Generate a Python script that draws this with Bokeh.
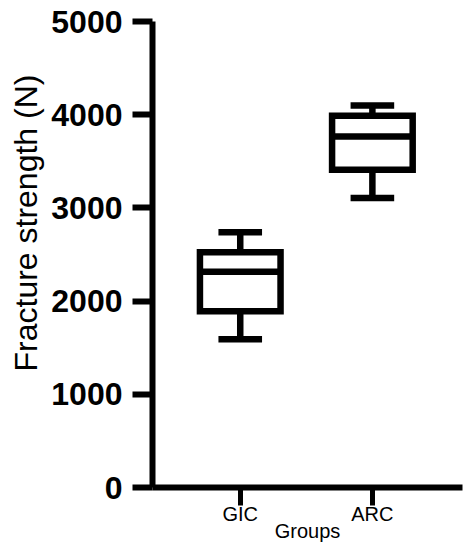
import math
from bokeh.plotting import figure
from bokeh.models import Range1d, FixedTicker, Title, ColumnDataSource
from bokeh.embed import file_html
from bokeh.resources import INLINE

# ---- data ----
groups = ["GIC", "ARC"]
minimum = [1590, 3105]
q1 = [1890, 3410]
median = [2315, 3765]
q3 = [2525, 3990]
maximum = [2740, 4100]
y_ticks = [0, 1000, 2000, 3000, 4000, 5000]

xs = list(range(1, len(groups) + 1))
box_half = 0.305
cap_half = 0.165

src = ColumnDataSource(dict(
    x=xs,
    left=[x - box_half for x in xs],
    right=[x + box_half for x in xs],
    cap_l=[x - cap_half for x in xs],
    cap_r=[x + cap_half for x in xs],
    minimum=minimum, q1=q1, median=median, q3=q3, maximum=maximum,
))

p = figure(width=470, height=550, output_backend="svg", toolbar_location=None,
           x_range=Range1d(0.336, 2.682), y_range=Range1d(0, 5000),
           min_border_left=150, min_border_right=8, min_border_top=21,
           min_border_bottom=63)
p.outline_line_color = None
p.xgrid.visible = False
p.ygrid.visible = False
p.background_fill_color = "white"
p.border_fill_color = "white"

LW = 6.5
# whisker stems
p.segment(x0="x", y0="q3", x1="x", y1="maximum", source=src, line_color="black", line_width=LW)
p.segment(x0="x", y0="q1", x1="x", y1="minimum", source=src, line_color="black", line_width=LW)
# caps
p.segment(x0="cap_l", y0="maximum", x1="cap_r", y1="maximum", source=src, line_color="black", line_width=LW)
p.segment(x0="cap_l", y0="minimum", x1="cap_r", y1="minimum", source=src, line_color="black", line_width=LW)
# boxes
p.quad(left="left", right="right", top="q3", bottom="q1", source=src,
       fill_color="white", line_color="black", line_width=LW, line_join="miter")
# medians
p.segment(x0="left", y0="median", x1="right", y1="median", source=src, line_color="black", line_width=LW)

# y axis
ya = p.yaxis[0]
ya.ticker = FixedTicker(ticks=y_ticks)
ya.axis_line_width = 6
ya.axis_line_color = "black"
ya.major_tick_line_width = 6
ya.major_tick_line_color = "black"
ya.major_tick_out = 20
ya.major_tick_in = 0
ya.minor_tick_line_color = None
ya.major_label_text_font = "Liberation Sans"
ya.major_label_text_font_style = "bold"
ya.major_label_text_font_size = "32px"
ya.major_label_text_color = "black"
ya.major_label_standoff = 10

# x axis
xa = p.xaxis[0]
xa.ticker = FixedTicker(ticks=xs)
xa.major_label_overrides = {x: g for x, g in zip(xs, groups)}
xa.axis_line_width = 6
xa.axis_line_color = "black"
xa.major_tick_line_width = 5
xa.major_tick_line_color = "black"
xa.major_tick_out = 18
xa.major_tick_in = 0
xa.minor_tick_line_color = None
xa.major_label_text_font = "Liberation Sans"
xa.major_label_text_font_size = "20px"
xa.major_label_text_color = "black"
xa.major_label_standoff = -3
xa.axis_label = "Groups"
xa.axis_label_text_font = "Liberation Sans"
xa.axis_label_text_font_style = "normal"
xa.axis_label_text_font_size = "20px"
xa.axis_label_text_color = "black"
xa.axis_label_standoff = -8

# y axis title (as a side-panel title, so it can be shifted along the axis)
p.add_layout(Title(text="Fracture strength (N)", align="left", offset=116,
                   text_font="Liberation Sans", text_font_style="normal",
                   text_font_size="32px", text_color="black", standoff=10), "left")

open("out.html", "w").write(file_html(p, INLINE))
